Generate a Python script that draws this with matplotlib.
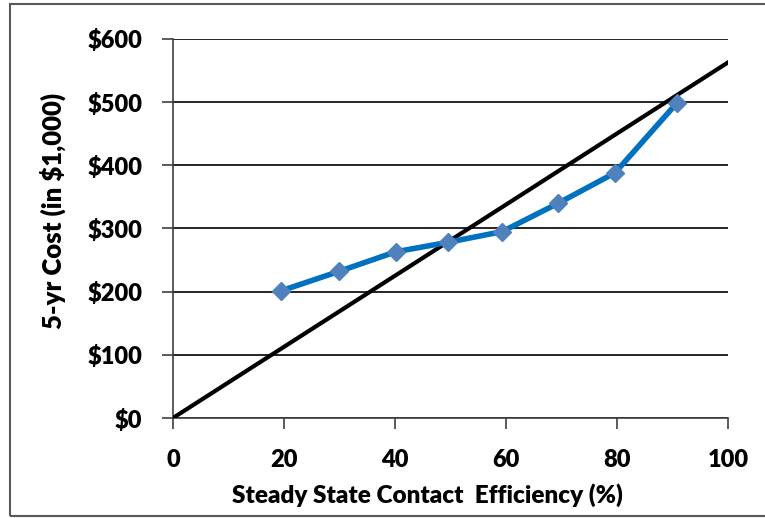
import matplotlib
matplotlib.use("Agg")
import matplotlib.pyplot as plt
from matplotlib.patches import Rectangle

# data
efficiency = [19.4, 29.9, 40.1, 49.5, 59.3, 69.4, 79.6, 90.7]
cost = [201, 232, 263, 278, 295, 340, 388, 498]
line_x = [0, 100]
line_y = [0, 563]

x_ticks = [0, 20, 40, 60, 80, 100]
y_ticks = [0, 100, 200, 300, 400, 500, 600]
y_labels = ["$0", "$100", "$200", "$300", "$400", "$500", "$600"]

plt.rcParams["font.family"] = ["Lato", "DejaVu Sans"]
plt.rcParams["font.weight"] = "heavy"

fig = plt.figure(figsize=(7.65, 5.18), dpi=100)
ax = fig.add_axes([0.226, 0.193, 0.726, 0.732])

ax.plot(line_x, line_y, color="black", linewidth=3, zorder=3)
ax.plot(efficiency, cost, color="#0070c0", linewidth=4, marker="D",
        markersize=9, markerfacecolor="#4f81bd", markeredgecolor="#4f81bd",
        zorder=4)

ax.set_xlim(0, 100)
ax.set_ylim(0, 600)
ax.set_xticks(x_ticks)
ax.set_yticks(y_ticks)
ax.set_yticklabels(y_labels)
ax.yaxis.grid(True, color="black", linewidth=1.2)
ax.set_axisbelow(True)

for side in ["top", "right"]:
    ax.spines[side].set_visible(False)
for side in ["left", "bottom"]:
    ax.spines[side].set_color("#404040")
    ax.spines[side].set_linewidth(1.2)

ax.tick_params(axis="both", direction="out", length=8, width=1.2,
               color="#404040", labelsize=17)
ax.tick_params(axis="x", pad=14)
ax.tick_params(axis="y", pad=14)
for lab in ax.get_xticklabels() + ax.get_yticklabels():
    lab.set_fontweight("heavy")

ax.set_xlabel("Steady State Contact  Efficiency (%)", fontsize=17.5,
              fontweight="heavy")
ax.xaxis.set_label_coords(0.458, -0.172)
ax.set_ylabel("5-yr Cost (in $1,000)", fontsize=18.5, fontweight="heavy")
ax.yaxis.set_label_coords(-0.193, 0.545)

# outer chart border
fig.patches.append(Rectangle((10 / 765, 2 / 518), 1.0, 1 - 6 / 518,
                             transform=fig.transFigure, fill=False,
                             edgecolor="#595959", linewidth=1.5))

fig.savefig("out.png", dpi=100)
